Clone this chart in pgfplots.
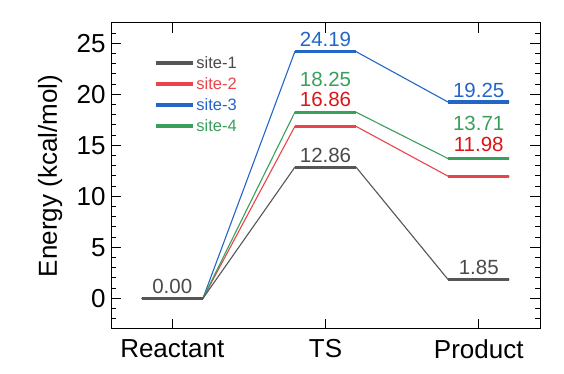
\documentclass[border=0pt]{standalone}
\usepackage{pgfplots}
\pgfplotsset{compat=1.18}
\usepackage{fontspec}
\setmainfont{Liberation Sans}
\definecolor{c1}{HTML}{555555}
\definecolor{c2}{HTML}{E8444A}
\definecolor{c3}{HTML}{2366C8}
\definecolor{c4}{HTML}{3A9F5C}
\definecolor{t1}{HTML}{4A4A4A}
\definecolor{t2}{HTML}{DD1418}
\begin{document}
\begin{tikzpicture}[x=1pt,y=1pt]
\useasboundingbox (-111,-45) rectangle (453,329);
\begin{axis}[at={(0,0)}, anchor=south west, scale only axis,
  width=429pt, height=306pt,
  xmin=-0.4, xmax=2.4, ymin=-3, ymax=27,
  xtick={0,1,2}, xticklabels={Reactant,TS,Product},
  ytick={0,5,10,15,20,25},
  minor ytick={-3,-2,...,27},
  tick align=inside, major tick length=10pt, minor tick length=5pt,
  tick style={black, line width=1pt},
  axis line style={line width=1pt},
  ticklabel style={font=\fontsize{26}{30}\selectfont},
  xticklabel style={yshift=-7pt},
  yticklabel style={xshift=-2pt},
  /pgf/number format/assume math mode=true,
  ylabel={Energy (kcal/mol)},
  ylabel style={font=\fontsize{26}{30}\selectfont, at={(axis description cs:-0.142,0.5)}, anchor=center},
  unbounded coords=jump,
  legend style={at={(axis description cs:0.093,0.905)}, anchor=north west, draw=none, fill=none,
    font=\fontsize{16.5}{19}\selectfont, row sep=3.5pt},
  legend cell align=left,
  legend image code/.code={\draw[#1] (0pt,0pt) -- (37pt,0pt);},
]
% thin connectors
\addplot[c2, line width=1.1pt, forget plot] coordinates {(-0.2,0) (0.2,0) (0.8,16.86) (1.2,16.86) (1.8,11.98) (2.2,11.98)};
\addplot[c3, line width=1.1pt, forget plot] coordinates {(-0.2,0) (0.2,0) (0.8,24.19) (1.2,24.19) (1.8,19.25) (2.2,19.25)};
\addplot[c4, line width=1.1pt, forget plot] coordinates {(-0.2,0) (0.2,0) (0.8,18.25) (1.2,18.25) (1.8,13.71) (2.2,13.71)};
\addplot[c1, line width=1.1pt, forget plot] coordinates {(-0.2,0) (0.2,0) (0.8,12.86) (1.2,12.86) (1.8,1.85) (2.2,1.85)};
% thick levels
\addplot[c1, line width=3.3pt] coordinates {(-0.2,0) (0.2,0) (0.5,nan) (0.8,12.86) (1.2,12.86) (1.5,nan) (1.8,1.85) (2.2,1.85)};
\addlegendentry{\textcolor{t1}{site-1}}
\addplot[c2, line width=3.3pt] coordinates {(0.8,16.86) (1.2,16.86) (1.5,nan) (1.8,11.98) (2.2,11.98)};
\addlegendentry{\textcolor{c2}{site-2}}
\addplot[c3, line width=3.3pt] coordinates {(0.8,24.19) (1.2,24.19) (1.5,nan) (1.8,19.25) (2.2,19.25)};
\addlegendentry{\textcolor{c3}{site-3}}
\addplot[c4, line width=3.3pt] coordinates {(0.8,18.25) (1.2,18.25) (1.5,nan) (1.8,13.71) (2.2,13.71)};
\addlegendentry{\textcolor{c4}{site-4}}
% value labels
\node[text=t1, font=\fontsize{20.5}{24}\selectfont] at (axis cs:0,1.13) {0.00};
\node[text=t1, font=\fontsize{20.5}{24}\selectfont] at (axis cs:1,13.97) {12.86};
\node[text=t1, font=\fontsize{20.5}{24}\selectfont] at (axis cs:2,2.99) {1.85};
\node[text=t2, font=\fontsize{20.5}{24}\selectfont] at (axis cs:1,19.46) {16.86};
\node[text=t2, font=\fontsize{20.5}{24}\selectfont] at (axis cs:2,15.05) {11.98};
\node[text=c3, font=\fontsize{20.5}{24}\selectfont] at (axis cs:1,25.34) {24.19};
\node[text=c3, font=\fontsize{20.5}{24}\selectfont] at (axis cs:2,20.34) {19.25};
\node[text=c4, font=\fontsize{20.5}{24}\selectfont] at (axis cs:1,21.42) {18.25};
\node[text=c4, font=\fontsize{20.5}{24}\selectfont] at (axis cs:2,17.2) {13.71};
\end{axis}
\end{tikzpicture}
\end{document}
